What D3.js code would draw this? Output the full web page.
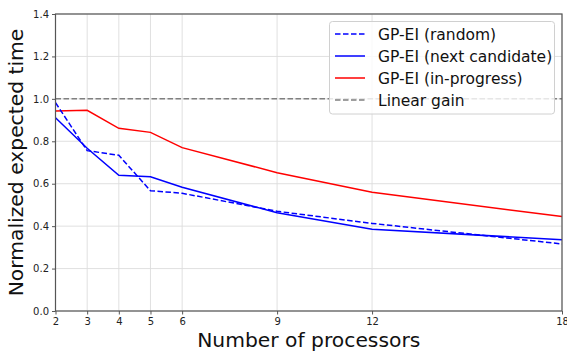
<!DOCTYPE html>
<html>
<head>
<meta charset="utf-8">
<script src="https://cdn.jsdelivr.net/npm/d3@7"></script>
<style>
  html, body { margin: 0; padding: 0; background: #fff; }
  svg { display: block; font-family: "DejaVu Sans", sans-serif; }
</style>
</head>
<body>
<svg id="chart" width="567" height="352"></svg>
<script>
// Processor counts on the x axis
const processors = [2, 3, 4, 5, 6, 9, 12, 18];
const xTicks = [2, 3, 4, 5, 6, 9, 12, 18];
const yTicks = [0.0, 0.2, 0.4, 0.6, 0.8, 1.0, 1.2, 1.4];

// Normalized expected time per strategy
const gpRandom = [0.982, 0.756, 0.734, 0.567, 0.555, 0.470, 0.413, 0.316];
const gpNextCandidate = [0.911, 0.767, 0.640, 0.633, 0.583, 0.463, 0.385, 0.336];
const gpInProgress = [0.943, 0.946, 0.861, 0.842, 0.770, 0.652, 0.560, 0.445];
const linearGain = 1.0;

const seriesNames = ["GP-EI (random)", "GP-EI (next candidate)", "GP-EI (in-progress)", "Linear gain"];

const svg = d3.select("#chart");
const m = { left: 55.5, right: 5, top: 14, bottom: 41 };
const W = 567, H = 352;

const x = d3.scaleLinear().domain([2, 18]).range([m.left, W - m.right]);
const y = d3.scaleLinear().domain([0, 1.4]).range([H - m.bottom, m.top]);

// Grid
const grid = svg.append("g");
grid.selectAll("line.gx").data(xTicks).join("line")
  .attr("x1", d => x(d)).attr("x2", d => x(d))
  .attr("y1", y(0)).attr("y2", y(1.4))
  .attr("stroke", "#dcdcdc").attr("stroke-width", 0.9);
grid.selectAll("line.gy").data(yTicks).join("line")
  .attr("x1", x(2)).attr("x2", x(18))
  .attr("y1", d => y(d)).attr("y2", d => y(d))
  .attr("stroke", "#dcdcdc").attr("stroke-width", 0.9);

// Axes
const xAxis = svg.append("g")
  .attr("transform", `translate(0,${y(0)})`)
  .call(d3.axisBottom(x).tickValues(xTicks).tickFormat(d3.format("d")).tickSize(3.5).tickPadding(3));
const yAxis = svg.append("g")
  .attr("transform", `translate(${x(2)},0)`)
  .call(d3.axisLeft(y).tickValues(yTicks).tickFormat(d3.format(".1f")).tickSize(3.5).tickPadding(3));
[xAxis, yAxis].forEach(a => {
  a.select(".domain").remove();
  a.selectAll(".tick line").attr("stroke", "#444").attr("stroke-width", 0.9);
  a.selectAll(".tick text").attr("fill", "#222").style("font-size", "10px")
    .style("font-family", "DejaVu Sans");
});

const line = d3.line().x((d, i) => x(processors[i])).y(d => y(d));

// Linear gain reference
svg.append("line")
  .attr("x1", x(2)).attr("x2", x(18))
  .attr("y1", y(linearGain)).attr("y2", y(linearGain))
  .attr("stroke", "#808080").attr("stroke-width", 1.5)
  .attr("stroke-dasharray", "5.5,2.5");

svg.append("path").datum(gpInProgress).attr("d", line)
  .attr("fill", "none").attr("stroke", "#ff0000").attr("stroke-width", 1.5);
svg.append("path").datum(gpNextCandidate).attr("d", line)
  .attr("fill", "none").attr("stroke", "#0000ff").attr("stroke-width", 1.5);
svg.append("path").datum(gpRandom).attr("d", line)
  .attr("fill", "none").attr("stroke", "#0000ff").attr("stroke-width", 1.5)
  .attr("stroke-dasharray", "5.5,2.5");

// Frame
svg.append("rect")
  .attr("x", x(2)).attr("y", y(1.4))
  .attr("width", x(18) - x(2)).attr("height", y(0) - y(1.4))
  .attr("fill", "none").attr("stroke", "#555").attr("stroke-width", 1.2);

// Legend
const legendItems = [
  { name: seriesNames[0], color: "#0000ff", dash: "5.5,2.5" },
  { name: seriesNames[1], color: "#0000ff", dash: null },
  { name: seriesNames[2], color: "#ff0000", dash: null },
  { name: seriesNames[3], color: "#808080", dash: "5.5,2.5" }
];
const lg = svg.append("g");
lg.append("rect")
  .attr("x", 329.5).attr("y", 21.5).attr("width", 225).attr("height", 92.5)
  .attr("rx", 3).attr("fill", "#fff").attr("fill-opacity", 0.8)
  .attr("stroke", "#d0d0d0").attr("stroke-width", 1);
legendItems.forEach((it, i) => {
  const cy = 34 + i * 22;
  lg.append("line")
    .attr("x1", 335).attr("x2", 365).attr("y1", cy).attr("y2", cy)
    .attr("stroke", it.color).attr("stroke-width", 1.5)
    .attr("stroke-dasharray", it.dash);
  lg.append("text")
    .attr("x", 378).attr("y", cy).attr("dy", "0.36em")
    .style("font-size", "15.5px").attr("fill", "#111")
    .text(it.name);
});

// Axis titles
svg.append("text")
  .attr("x", (x(2) + x(18)) / 2).attr("y", 347)
  .attr("text-anchor", "middle").style("font-size", "20.3px").attr("fill", "#111")
  .text("Number of processors");
svg.append("text")
  .attr("transform", `translate(23,${(y(0) + y(1.4)) / 2}) rotate(-90)`)
  .attr("text-anchor", "middle").style("font-size", "20.3px").attr("fill", "#111")
  .text("Normalized expected time");
</script>
</body>
</html>
